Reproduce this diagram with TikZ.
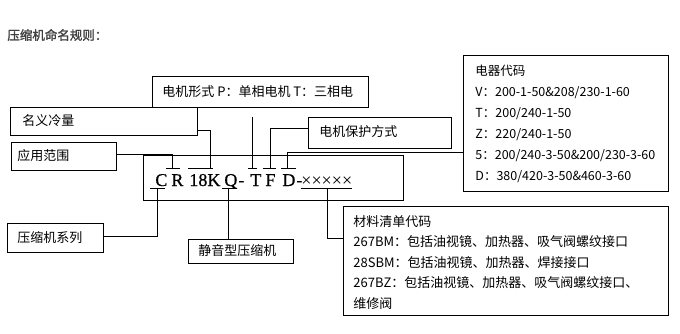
\documentclass[tikz,border=0pt]{standalone}
\usepackage{fontspec}
\setmainfont{Liberation Serif}
\newfontfamily\cjk{Noto Sans CJK SC}
\newfontfamily\cjkbold[FakeBold=1.8]{Noto Sans CJK SC}
\newfontfamily\codefont[FakeBold=0.6]{Liberation Serif}
\begin{document}
\begin{tikzpicture}[x=1pt,y=-1pt,line width=0.8pt,
  frame/.style={draw, anchor=north west, inner sep=0pt},
  lbl/.style={anchor=west, inner sep=0pt, font=\cjk\fontsize{13}{15}\selectfont},
  multi/.style={anchor=north west, inner sep=0pt, align=left, font=\cjk\fontsize{13}{20.5}\selectfont},
  code/.style={anchor=base west, inner sep=0pt, font=\codefont\fontsize{18}{18}\selectfont}]
\useasboundingbox (0,0) rectangle (680,334);

\node[anchor=west, inner sep=0pt, font=\cjkbold\fontsize{12.5}{15}\selectfont, text=black!75] (title) at (7,35) {压缩机命名规则：};

% boxes
\node[frame, minimum width=216pt, minimum height=31pt] (motor) at (152,76) {};
\node[lbl] (motort) at (162,92) {电机形式 P：单相电机 T：三相电};
\node[frame, minimum width=187pt, minimum height=28pt] (mingyi) at (10,107) {};
\node[lbl] (mingyit) at (22,121) {名义冷量};
\node[frame, minimum width=105pt, minimum height=28pt] (yingyong) at (11,142) {};
\node[lbl] (yingyongt) at (17,156) {应用范围};
\node[frame, minimum width=143pt, minimum height=31pt] (protect) at (308,117) {};
\node[lbl] (protectt) at (319,132) {电机保护方式};
\node[frame, minimum width=260pt, minimum height=45pt] (mainbox) at (143,155) {};
\node[frame, minimum width=205pt, minimum height=136pt] (elec) at (463,55) {};
\node[multi, font=\cjk\fontsize{12.5}{21}\selectfont] (elect) at (475,65) {电器代码\\V：200-1-50\&208/230-1-60\\T：200/240-1-50\\Z：220/240-1-50\\5：200/240-3-50\&200/230-3-60\\D：380/420-3-50\&460-3-60};
\node[frame, minimum width=325pt, minimum height=109pt] (mat) at (343,206) {};
\node[multi] (matt) at (353,215) {材料清单代码\\267BM：包括油视镜、加热器、吸气阀螺纹接口\\28SBM：包括油视镜、加热器、焊接接口\\267BZ：包括油视镜、加热器、吸气阀螺纹接口、\\维修阀};
\node[frame, minimum width=96pt, minimum height=29pt] (series) at (7,223) {};
\node[lbl] (seriest) at (17,237.5) {压缩机系列};
\node[frame, minimum width=105pt, minimum height=24pt] (silent) at (188,239) {};
\node[lbl] (silentt) at (198,251) {静音型压缩机};

% code
\node[code] (cC) at (155,186) {C};
\node[code] (cR) at (171,186) {R};
\node[code] (c18) at (189,186) {18K};
\node[code] (cQ) at (224,186) {Q};
\node[code] (cQd) at (238,186) {-};
\node[code] (cT) at (250,186) {T};
\node[code] (cF) at (265,186) {F};
\node[code] (cD) at (282,186) {D};
\node[code] (cDd) at (296,186) {-};
\node[code, font=\fontsize{18}{18}\selectfont] (cX) at (301,186) {×××××};

% underlines
\draw (150,188) -- (165,188);
\draw (222,188) -- (237,188);
\draw (301,188) -- (352,188);
% tee bars
\draw (166,168) -- (180,168);
\draw (188,168) -- (213,168);
\draw (248,168) -- (257,168);
\draw (263,168) -- (276,168);
\draw (281,168) -- (296,168);

% connector coordinates
\coordinate (yyOut) at (116,154);  \coordinate (yyT) at (172,168);
\coordinate (myOut) at (197,130);  \coordinate (myT) at (210,168);
\coordinate (moTop) at (252,117);  \coordinate (moT) at (252,168);
\coordinate (prOut) at (308,128);  \coordinate (prT) at (270,168);
\coordinate (elOut) at (463,152);  \coordinate (elT) at (287,168);
\coordinate (cU) at (157,188);     \coordinate (seIn) at (103,236);
\coordinate (qU) at (228,188);     \coordinate (siIn) at (228,239);
\coordinate (xU) at (327,188);     \coordinate (maIn) at (343,238);

\draw (yyOut) -| (yyT);
\draw (myOut) -| (myT);
\draw (moTop) -- (moT);
\draw (prOut) -| (prT);
\draw (elOut) -| (elT);
\draw (cU) |- (seIn);
\draw (qU) -- (siIn);
\draw (xU) |- (maIn);
\end{tikzpicture}
\end{document}
